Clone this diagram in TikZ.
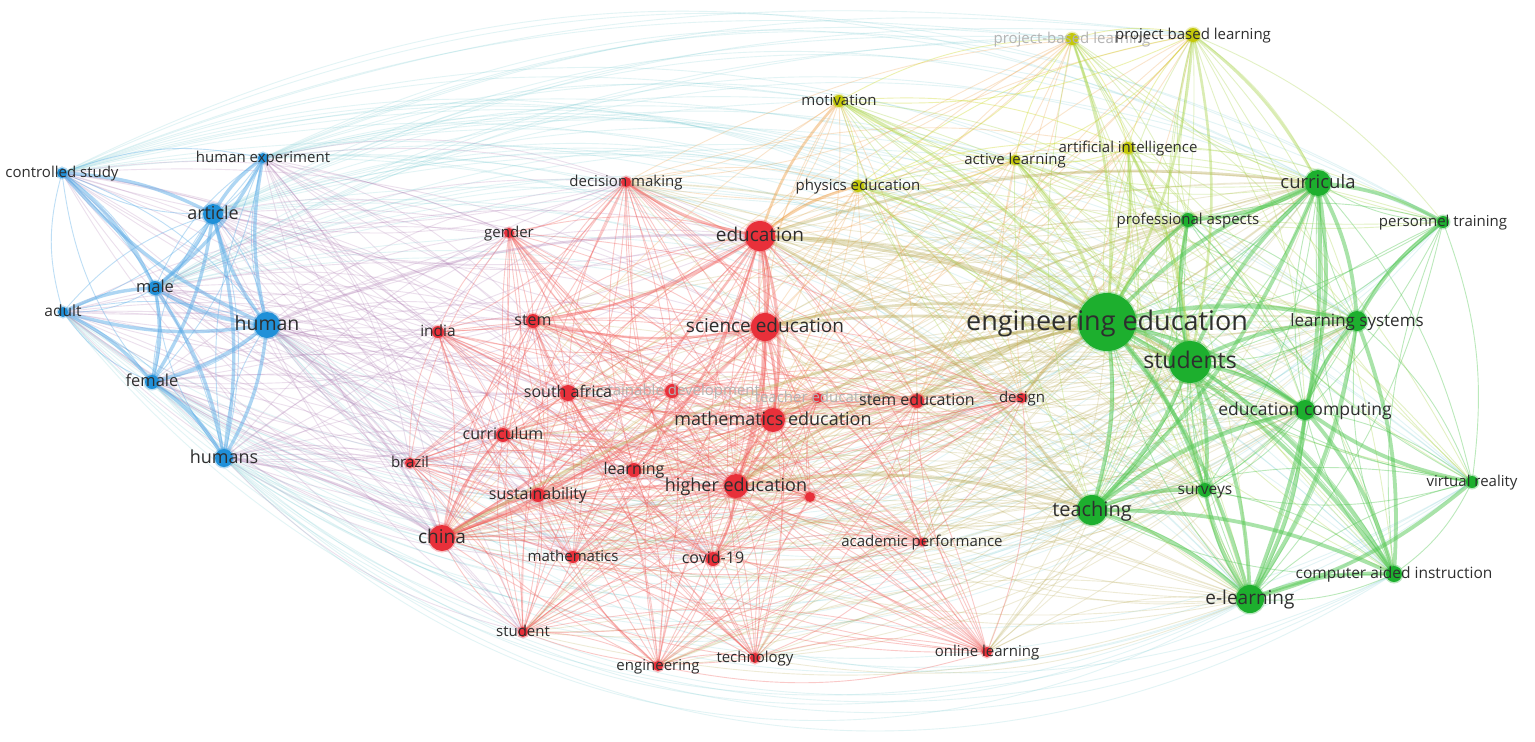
\documentclass[tikz,border=0pt]{standalone}
\usepackage{fontspec}
\setmainfont{Open Sans}
\usetikzlibrary{calc}
\pgfdeclarelayer{edges}
\pgfdeclarelayer{labels}
\pgfsetlayers{edges,main,labels}
\definecolor{blueN}{HTML}{2090D8}
\definecolor{redN}{HTML}{E8303A}
\definecolor{greenN}{HTML}{1DAF2E}
\definecolor{yelN}{HTML}{C4C80A}
\definecolor{blueE}{HTML}{5EAEE8}
\definecolor{redE}{HTML}{F2625F}
\definecolor{greenE}{HTML}{55C855}
\definecolor{yelE}{HTML}{D2DC3A}
\definecolor{purpE}{HTML}{B07FB4}
\definecolor{tealE}{HTML}{70C8D0}
\definecolor{oliveE}{HTML}{B4A448}
\definecolor{orangeE}{HTML}{EFA14A}
\definecolor{ygE}{HTML}{A8D44A}
\definecolor{labc}{HTML}{2E2E2E}
\definecolor{fadec}{HTML}{B4B4B4}
\tikzset{
  kwnode/.style={circle, inner sep=0pt, line width=3pt, draw opacity=0.3},
  kwlab/.style={text=labc, inner sep=0pt, anchor=base},
  fadelab/.style={kwlab, text=fadec},
  ethin/.style={line width=0.9pt, draw opacity=0.3},
  eblue/.style={ethin, draw=blueE, draw opacity=0.4},
  ered/.style={ethin, draw=redE, draw opacity=0.34},
  egreen/.style={ethin, draw=greenE, draw opacity=0.4},
  eyel/.style={ethin, draw=yelE, draw opacity=0.4},
  epurp/.style={ethin, draw=purpE, draw opacity=0.24},
  eteal/.style={ethin, draw=tealE, draw opacity=0.2},
  eolive/.style={ethin, draw=oliveE, draw opacity=0.22},
  eorange/.style={ethin, draw=orangeE, draw opacity=0.28},
  eyg/.style={ethin, draw=ygE, draw opacity=0.32},
}
% node: name, x, y, radius, colour, font size, label
\newcommand\kw[7]{%
  \node[kwnode, fill=#5, draw=#5, minimum size={2*#4}] (#1) at (#2,#3) {};
  \begin{pgfonlayer}{labels}\node[kwlab, font=\fontsize{#6}{#6}\selectfont, yshift={-0.3*#6pt}] (#1-t) at (#2,#3) {#7};\end{pgfonlayer}}
\newcommand\kwf[7]{%
  \node[kwnode, fill=#5, draw=#5, minimum size={2*#4}] (#1) at (#2,#3) {};
  \begin{pgfonlayer}{labels}\node[fadelab, font=\fontsize{#6}{#6}\selectfont, yshift={-0.3*#6pt}] (#1-t) at (#2,#3) {#7};\end{pgfonlayer}}
% curved link: style, from, to, bend angle (bend left)
\newcommand\lnk[4]{%
  \draw[#1] (#2.center) .. controls ($(#2.center)!0.39!#4:(#3.center)$) and ($(#3.center)!0.39!-#4:(#2.center)$) .. (#3.center);}
% all pairs inside one list
\newcommand\clique[3]{%
  \foreach \a [count=\i] in #2 {\foreach \b [count=\j] in #2 {%
    \ifnum\j>\i
      \ifodd\numexpr\i+\j\relax\lnk{#1}{\a}{\b}{#3}\else\lnk{#1}{\b}{\a}{#3}\fi
    \fi}}}
% all pairs between two lists, alternating bend
\newcommand\cross[4]{%
  \foreach \a [count=\i] in #2 {\foreach \b [count=\j] in #3 {%
      \ifodd\numexpr\i+\j\relax\lnk{#1}{\a}{\b}{#4}\else\lnk{#1}{\b}{\a}{#4}\fi}}}
% all pairs between two lists, fixed bend
\newcommand\crossfix[4]{%
  \foreach \a in #2 {\foreach \b in #3 {\lnk{#1}{\a}{\b}{#4}}}}
\newcommand\strongln[2]{%
  \foreach \a/\b in #2 {\lnk{#1}{\a}{\b}{12}}}
\def\blueL{cs,hx,art,male,adult,hum,fem,hums}
\def\blueUp{cs,hx,art,male}
\def\blueLo{adult,hum,fem,hums}
\def\redL{dm,gen,edu,ind,stem,sci,saf,sdev,ted,sted,des,med,cur,bra,lrn,hed,unk,sus,chi,math,cov,acad,stu,eng,tech,onl}
\def\redB{edu,sci,med,hed,chi,cur,stem,gen,dm,ind,bra,saf,sus,stu,lrn,math,cov}
\def\redG{edu,sci,med,hed,chi,sted,des,acad,onl,cov,lrn,saf,cur,stem,dm,tech,eng,stu,math,sus}
\def\redY{edu,sci,med,hed,dm,chi,sted,des}
\def\yelL{pb1,pb2,mot,ai,act,phy}
\def\yelB{mot,pb1,pb2,phy,act}
\def\greenL{cur2,prof,pers,ee,ls,sts,ec,surv,tea,vr,cai,el}
\def\greenB{ee,sts,tea,cur2,el,ec,ls,cai,pers,vr}
\def\greenR{ee,sts,tea,el,cur2,ec,ls,surv,prof}
\def\sBlue{hum/art,hum/male,hum/fem,hum/hums,hum/hx,art/male,art/hx,male/fem,fem/hums,male/hums,art/fem,cs/male,adult/male,adult/fem,cs/art,art/hums,hx/male,hum/cs,hum/adult}
\def\sGreen{ee/sts,ee/tea,ee/cur2,ee/el,ee/ls,ee/ec,sts/tea,sts/el,sts/cur2,sts/ec,sts/ls,cur2/ls,cur2/ec,ec/el,tea/el,ls/el,cur2/el,ec/ls,el/cai,ee/surv,ee/prof,cur2/pers,tea/surv,sts/surv,ec/cai,ls/cai,ee/cai,tea/ec,cur2/tea,ls/pers,vr/el,vr/ec,el/surv,sts/prof,cur2/prof,tea/cai,sts/cai}
\def\sRed{edu/sci,edu/med,sci/med,edu/hed,chi/hed,sci/hed,edu/chi,med/hed,edu/dm,chi/sus,chi/cur,sci/stem,edu/stem,hed/cov,edu/lrn,sci/chi}
\def\sOlive{edu/ee,sci/ee,med/ee,hed/ee,edu/sts,edu/tea,sted/ee,chi/ee,sci/sts,hed/tea,des/ee,edu/cur2}
\def\sYG{pb2/ee,pb2/sts,pb1/ee,ai/ee,mot/ee,phy/ee,act/ee,pb2/cur2,ai/sts}
\def\sOrange{edu/phy,edu/mot}
\def\sPurp{hum/chi,hums/chi,hum/edu}
\begin{document}
\begin{tikzpicture}[x=1pt,y=-1pt]
\useasboundingbox (0,0) rectangle (1535,742);
\begin{pgfonlayer}{edges}
\fill[white] (0,0) rectangle (1535,742);
\end{pgfonlayer}
% faded labels first
\kwf{sdev}{672}{391}{7}{redN}{15}{sustainable development}
\kwf{ted}{818}{398}{5}{redN}{15}{teacher education}
\kwf{pb1}{1072}{39}{6}{yelN}{15}{project-based learning}
% blue cluster
\kw{cs}{62}{173}{5}{blueN}{15}{controlled study}
\kw{hx}{263}{158}{5}{blueN}{15}{human experiment}
\kw{art}{213}{214}{10}{blueN}{18}{article}
\kw{male}{155}{288}{7}{blueN}{16.5}{male}
\kw{adult}{63}{312}{5}{blueN}{15.5}{adult}
\kw{hum}{267}{325}{13}{blueN}{19.5}{human}
\kw{fem}{152}{382}{7}{blueN}{16.5}{female}
\kw{hums}{224}{458}{9}{blueN}{18}{humans}
% red cluster
\kw{dm}{626}{182}{5}{redN}{15}{decision making}
\kw{gen}{509}{233}{5}{redN}{15}{gender}
\kw{edu}{760}{236}{15}{redN}{19}{education}
\kw{ind}{438}{332}{6}{redN}{15.5}{india}
\kw{stem}{533}{321}{7}{redN}{16}{stem}
\kw{sci}{765}{327}{14}{redN}{19}{science education}
\kw{saf}{568}{393}{8}{redN}{16}{south africa}
\kw{sted}{917}{401}{7}{redN}{16}{stem education}
\kw{des}{1022}{398}{5}{redN}{15}{design}
\kw{med}{773}{420}{12}{redN}{18}{mathematics education}
\kw{cur}{503}{435}{7}{redN}{16}{curriculum}
\kw{bra}{410}{463}{5}{redN}{15}{brazil}
\kw{lrn}{634}{470}{7}{redN}{16}{learning}
\kw{hed}{736}{486}{12}{redN}{18}{higher education}
\kw{unk}{810}{497}{5}{redN}{15}{}
\kw{sus}{538}{495}{7}{redN}{16}{sustainability}
\kw{chi}{442}{538}{13}{redN}{19}{china}
\kw{math}{573}{557}{6}{redN}{15}{mathematics}
\kw{cov}{713}{559}{7}{redN}{16}{covid-19}
\kw{acad}{922}{542}{4}{redN}{15}{academic performance}
\kw{stu}{523}{632}{5}{redN}{15}{student}
\kw{eng}{658}{666}{5}{redN}{15}{engineering}
\kw{tech}{755}{658}{5}{redN}{15}{technology}
\kw{onl}{987}{652}{5}{redN}{15}{online learning}
% yellow cluster
\kw{pb2}{1193}{35}{7}{yelN}{15}{project based learning}
\kw{mot}{839}{101}{6}{yelN}{15}{motivation}
\kw{ai}{1128}{148}{6}{yelN}{15}{artificial intelligence}
\kw{act}{1015}{160}{5}{yelN}{15}{active learning}
\kw{phy}{858}{186}{6}{yelN}{15}{physics education}
% green cluster
\kw{cur2}{1318}{183}{13}{greenN}{18.5}{curricula}
\kw{prof}{1188}{220}{7}{greenN}{15}{professional aspects}
\kw{pers}{1443}{222}{6}{greenN}{15}{personnel training}
\kw{ee}{1107}{322}{29}{greenN}{27}{engineering education}
\kw{ls}{1357}{321}{10}{greenN}{17}{learning systems}
\kw{sts}{1190}{362}{21}{greenN}{23}{students}
\kw{ec}{1305}{410}{10}{greenN}{17.5}{education computing}
\kw{surv}{1205}{490}{7}{greenN}{15.5}{surveys}
\kw{tea}{1092}{510}{15}{greenN}{20}{teaching}
\kw{vr}{1472}{482}{6}{greenN}{15}{virtual reality}
\kw{cai}{1394}{574}{8}{greenN}{15.5}{computer aided instruction}
\kw{el}{1250}{599}{14}{greenN}{19}{e-learning}
\begin{pgfonlayer}{edges}
% long inter-cluster arcs
\crossfix{eteal}{\blueUp}{\greenB}{27}
\crossfix{eteal}{\blueLo}{\greenB}{-38}
\crossfix{eteal}{\blueUp}{\yelB}{14}
\cross{epurp}{\blueL}{\redB}{16}
\cross{eolive}{\redG}{\greenR}{16}
\cross{eorange}{\redY}{\yelL}{14}
\cross{eyg}{\yelL}{\greenL}{14}
% intra-cluster
\clique{eblue}{\blueL}{16}
\clique{ered}{\redL}{14}
\clique{eyel}{\yelL}{14}
\clique{egreen}{\greenL}{14}
% strong links
\strongln{draw=blueE, line width=3.4pt, draw opacity=0.5}{\sBlue}
\strongln{draw=greenE, line width=3.8pt, draw opacity=0.5}{\sGreen}
\strongln{draw=redE, line width=2.4pt, draw opacity=0.42}{\sRed}
\strongln{draw=oliveE, line width=2.8pt, draw opacity=0.35}{\sOlive}
\strongln{draw=ygE, line width=2.6pt, draw opacity=0.42}{\sYG}
\strongln{draw=orangeE, line width=2.6pt, draw opacity=0.45}{\sOrange}
\strongln{draw=purpE, line width=2.4pt, draw opacity=0.32}{\sPurp}
\end{pgfonlayer}
\end{tikzpicture}
\end{document}
